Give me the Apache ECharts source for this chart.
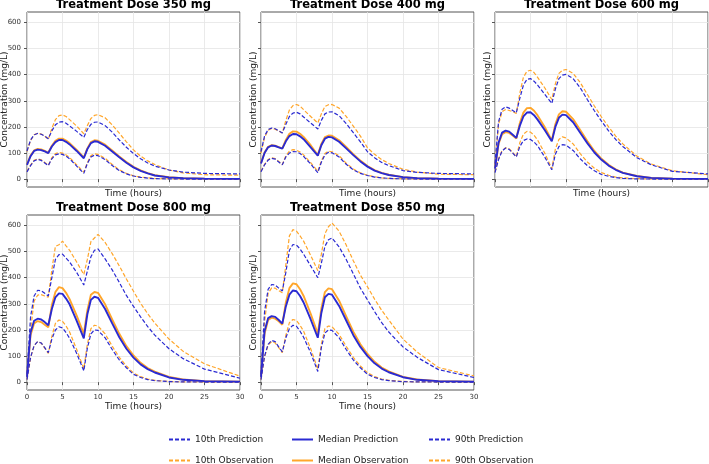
<!DOCTYPE html>
<html>
<head>
<meta charset="utf-8">
<script src="https://cdn.jsdelivr.net/npm/echarts@6/dist/echarts.min.js"></script>
<style>html,body{margin:0;padding:0;background:#fff;}#c{width:709px;height:464px;}</style>
</head>
<body>
<div id="c"></div>
<script>
// time points (hours)
const T = [0, 0.5, 1, 1.5, 2, 2.5, 3, 3.5, 4, 4.5, 5, 5.5, 6, 7, 8, 8.5, 9, 9.5, 10, 11, 12, 13, 14, 15, 16, 17, 18, 20, 22, 25, 30];
const doses = [350, 400, 600, 800, 850];
const yTicks = [0, 100, 200, 300, 400, 500, 600];
const xTicks = [0, 5, 10, 15, 20, 25, 30];

// 350 mg
const p10Pred350 = [28, 52, 70, 76, 72, 62, 52, 78, 93, 97, 95, 88, 78, 50, 22, 60, 85, 92, 90, 75, 52, 33, 20, 12, 7, 4, 2, 1, 0.5, 0.3, 0.2];
const p10Obs350  = [30, 54, 72, 78, 74, 64, 53, 82, 98, 102, 100, 93, 83, 55, 27, 63, 90, 97, 95, 80, 56, 36, 22, 13, 8, 5, 3, 1.5, 1, 0.5, 0.3];
const medPred350 = [55, 88, 108, 113, 111, 106, 100, 125, 142, 150, 150, 143, 133, 108, 80, 115, 138, 145, 143, 128, 106, 84, 63, 45, 32, 22, 14, 7, 4, 2, 1];
const medObs350  = [57, 90, 110, 116, 114, 108, 101, 128, 147, 155, 155, 148, 138, 112, 83, 118, 142, 149, 147, 132, 110, 87, 66, 47, 34, 23, 15, 8, 4, 2, 1];
const p90Pred350 = [108, 150, 170, 175, 172, 165, 155, 185, 208, 218, 220, 214, 204, 183, 160, 190, 210, 218, 219, 205, 180, 150, 122, 98, 78, 62, 50, 35, 27, 22, 20];
const p90Obs350  = [106, 148, 170, 176, 173, 165, 152, 195, 228, 243, 246, 240, 228, 203, 174, 205, 232, 244, 247, 235, 208, 176, 143, 112, 88, 70, 56, 35, 24, 17, 15];

// 400 mg
const p10Pred400 = [28, 55, 73, 80, 77, 66, 55, 85, 100, 106, 105, 98, 87, 58, 25, 65, 93, 103, 101, 85, 57, 36, 22, 14, 8, 5, 3, 1, 0.5, 0.3, 0.2];
const p10Obs400  = [30, 57, 75, 82, 79, 68, 56, 90, 107, 113, 111, 104, 93, 63, 30, 70, 98, 107, 105, 90, 61, 39, 24, 15, 9, 5, 3, 1.5, 1, 0.5, 0.3];
const medPred400 = [60, 100, 122, 129, 127, 122, 117, 145, 165, 173, 172, 164, 153, 122, 90, 130, 155, 162, 160, 143, 118, 92, 68, 48, 33, 23, 16, 8, 4, 2, 1];
const medObs400  = [62, 102, 124, 130, 128, 123, 118, 150, 174, 183, 182, 174, 162, 130, 92, 135, 161, 167, 166, 149, 123, 96, 71, 50, 35, 24, 17, 8, 4, 2, 1];
const p90Pred400 = [105, 165, 190, 196, 193, 185, 177, 210, 240, 253, 256, 250, 238, 215, 192, 225, 250, 257, 258, 243, 213, 178, 143, 105, 82, 64, 52, 33, 26, 22, 20];
const p90Obs400  = [100, 160, 187, 194, 191, 184, 177, 225, 265, 282, 286, 280, 266, 240, 215, 250, 278, 285, 286, 272, 240, 203, 165, 120, 95, 75, 60, 38, 27, 19, 17];

// 600 mg
const p10Pred600 = [25, 75, 108, 119, 114, 100, 85, 125, 148, 154, 152, 142, 128, 85, 36, 95, 125, 132, 130, 110, 78, 52, 32, 18, 11, 6, 3, 1, 0.5, 0.3, 0.2];
const p10Obs600  = [28, 78, 110, 120, 116, 102, 86, 140, 172, 183, 180, 168, 150, 100, 40, 115, 152, 162, 158, 135, 98, 66, 42, 25, 15, 8, 5, 2, 1, 0.5, 0.3];
const medPred600 = [40, 140, 178, 186, 182, 170, 158, 205, 240, 255, 256, 245, 228, 188, 145, 200, 235, 247, 245, 218, 178, 138, 102, 74, 52, 36, 24, 11, 5, 2, 1];
const medObs600  = [42, 135, 172, 180, 177, 167, 156, 215, 255, 272, 273, 262, 244, 200, 148, 210, 248, 260, 258, 230, 188, 146, 108, 78, 55, 38, 25, 12, 5, 2, 1];
const p90Pred600 = [60, 220, 268, 277, 272, 263, 254, 310, 360, 382, 385, 375, 360, 325, 290, 345, 385, 398, 401, 385, 350, 305, 262, 222, 185, 152, 125, 82, 55, 30, 20];
const p90Obs600  = [55, 210, 258, 267, 263, 258, 252, 330, 390, 413, 417, 408, 390, 350, 305, 365, 405, 417, 420, 405, 370, 325, 280, 238, 200, 165, 135, 88, 58, 32, 17];

// 800 mg
const p10Pred800 = [10, 95, 140, 155, 150, 132, 113, 165, 200, 212, 208, 190, 168, 110, 43, 130, 185, 200, 198, 170, 125, 85, 55, 30, 18, 10, 6, 2, 1, 0.5, 0.2];
const p10Obs800  = [10, 92, 140, 155, 150, 130, 110, 175, 225, 238, 233, 215, 192, 125, 52, 145, 205, 218, 215, 185, 138, 95, 62, 35, 21, 12, 7, 3, 1, 0.5, 0.3];
const medPred800 = [20, 190, 235, 243, 240, 230, 218, 280, 325, 340, 338, 320, 298, 235, 168, 260, 315, 327, 323, 280, 225, 172, 128, 94, 68, 50, 37, 18, 9, 4, 2];
const medObs800  = [20, 180, 225, 234, 230, 220, 210, 295, 345, 364, 360, 342, 318, 255, 185, 275, 335, 345, 342, 298, 240, 185, 138, 102, 74, 54, 40, 20, 10, 4, 2];
const p90Pred800 = [30, 250, 330, 352, 350, 340, 330, 400, 470, 488, 490, 475, 460, 420, 372, 425, 480, 505, 510, 472, 430, 382, 332, 290, 250, 213, 180, 128, 90, 50, 15];
const p90Obs800  = [30, 200, 310, 333, 335, 330, 325, 430, 520, 526, 540, 522, 505, 460, 412, 470, 538, 552, 566, 535, 492, 445, 395, 348, 302, 262, 226, 165, 118, 70, 23];

// 850 mg
const p10Pred850 = [10, 100, 145, 160, 155, 135, 116, 170, 205, 218, 214, 195, 172, 112, 41, 132, 188, 200, 198, 170, 125, 85, 55, 30, 18, 10, 6, 2, 1, 0.5, 0.2];
const p10Obs850  = [10, 95, 142, 155, 150, 132, 113, 180, 228, 240, 236, 218, 195, 128, 50, 145, 205, 215, 212, 183, 137, 95, 62, 36, 21, 12, 7, 3, 1, 0.5, 0.3];
const medPred850 = [20, 195, 245, 253, 250, 238, 224, 290, 335, 351, 348, 330, 305, 240, 170, 265, 325, 338, 335, 292, 236, 180, 135, 100, 72, 52, 38, 19, 9, 4, 2];
const medObs850  = [20, 185, 238, 247, 243, 233, 220, 305, 360, 378, 375, 356, 330, 262, 185, 282, 345, 359, 356, 312, 252, 193, 145, 108, 78, 56, 41, 20, 10, 4, 2];
const p90Pred850 = [30, 270, 355, 374, 372, 360, 349, 420, 505, 527, 525, 510, 490, 445, 400, 455, 520, 545, 552, 518, 470, 415, 360, 315, 270, 228, 192, 135, 95, 48, 18];
const p90Obs850  = [30, 230, 340, 361, 360, 350, 342, 450, 560, 584, 578, 560, 540, 485, 427, 490, 568, 595, 609, 578, 525, 465, 410, 365, 318, 275, 238, 165, 115, 56, 24];

const panelData = [
  {p10p: p10Pred350, p10o: p10Obs350, medp: medPred350, medo: medObs350, p90p: p90Pred350, p90o: p90Obs350},
  {p10p: p10Pred400, p10o: p10Obs400, medp: medPred400, medo: medObs400, p90p: p90Pred400, p90o: p90Obs400},
  {p10p: p10Pred600, p10o: p10Obs600, medp: medPred600, medo: medObs600, p90p: p90Pred600, p90o: p90Obs600},
  {p10p: p10Pred800, p10o: p10Obs800, medp: medPred800, medo: medObs800, p90p: p90Pred800, p90o: p90Obs800},
  {p10p: p10Pred850, p10o: p10Obs850, medp: medPred850, medo: medObs850, p90p: p90Pred850, p90o: p90Obs850}
];

const BLUE = '#2a2ad2';
const ORANGE = '#ffa62b';
const FONT = 'DejaVu Sans';
const layout = [
  {left: 27, top: 12}, {left: 261, top: 12}, {left: 495, top: 12},
  {left: 27, top: 215}, {left: 261, top: 215}
];
const W = 213, H = 175;

const grids = [], xAxes = [], yAxes = [], titles = [], series = [];
layout.forEach((g, i) => {
  const bottomRow = i >= 3;
  const firstCol = (i === 0 || i === 3);
  grids.push({left: g.left, top: g.top, width: W, height: H, show: true, borderColor: '#555', borderWidth: 1,
    backgroundColor: 'transparent', containLabel: false, outerBoundsMode: 'none'});
  titles.push({text: 'Treatment Dose ' + doses[i] + ' mg', left: g.left + W / 2, textAlign: 'center',
    top: bottomRow ? 202 : -1, padding: 0,
    textStyle: {fontFamily: FONT, fontWeight: 'bold', fontSize: 11.5, color: '#000'}});
  xAxes.push({type: 'value', gridIndex: i, min: 0, max: 30, interval: 5,
    name: 'Time (hours)', nameLocation: 'middle', nameGap: bottomRow ? 12 : 2, nameMoveOverlap: false,
    nameTextStyle: {fontFamily: FONT, fontSize: 9, color: '#222'},
    axisLine: {show: false}, axisTick: {show: true, length: 3, lineStyle: {color: '#555'}},
    axisLabel: {show: bottomRow, fontFamily: FONT, fontSize: 7, color: '#333', margin: 4},
    splitLine: {show: true, lineStyle: {color: '#e4e4e4', width: 0.8}}});
  yAxes.push({type: 'value', gridIndex: i, min: -30, max: 640,
    name: 'Concentration (mg/L)', nameLocation: 'middle', nameGap: firstCol ? 18 : 2.5, nameMoveOverlap: false,
    nameTextStyle: {fontFamily: FONT, fontSize: 9, color: '#222'},
    axisLine: {show: false},
    axisTick: {show: true, length: 3, lineStyle: {color: '#555'}, customValues: yTicks},
    axisLabel: {show: firstCol, fontFamily: FONT, fontSize: 7, color: '#333', margin: 6, customValues: yTicks,
      formatter: firstCol ? '{value}' : function () { return ''; }},
    splitLine: {show: true, lineStyle: {color: '#e4e4e4', width: 0.8}}});
  const d = panelData[i];
  const mk = (name, arr, color, dashed, width) => ({
    name, type: 'line', xAxisIndex: i, yAxisIndex: i, symbol: 'none', animation: false,
    data: T.map((t, k) => [t, arr[k]]),
    lineStyle: {color, width, type: dashed ? [4, 2] : 'solid'},
    itemStyle: {color}
  });
  series.push(mk('90th Observation', d.p90o, ORANGE, true, 1.2));
  series.push(mk('Median Observation', d.medo, ORANGE, false, 1.9));
  series.push(mk('10th Observation', d.p10o, ORANGE, true, 1.2));
  series.push(mk('90th Prediction', d.p90p, BLUE, true, 1.2));
  series.push(mk('Median Prediction', d.medp, BLUE, false, 1.9));
  series.push(mk('10th Prediction', d.p10p, BLUE, true, 1.2));
});

const legendBase = {orient: 'vertical', top: 435, width: 130, height: 60, itemWidth: 21, itemHeight: 10, itemGap: 12,
  itemStyle: {opacity: 0},
  textStyle: {fontFamily: FONT, fontSize: 9, color: '#222'}, padding: 0, selectedMode: false};
const legends = [
  Object.assign({}, legendBase, {left: 168, data: ['10th Prediction', '10th Observation']}),
  Object.assign({}, legendBase, {left: 291, data: ['Median Prediction', 'Median Observation']}),
  Object.assign({}, legendBase, {left: 428, data: ['90th Prediction', '90th Observation']})
];

const chart = echarts.init(document.getElementById('c'), null, {renderer: 'canvas'});
chart.setOption({
  animation: false,
  backgroundColor: '#fff',
  title: titles,
  grid: grids,
  xAxis: xAxes,
  yAxis: yAxes,
  legend: legends,
  series: series
});
</script>
</body>
</html>
